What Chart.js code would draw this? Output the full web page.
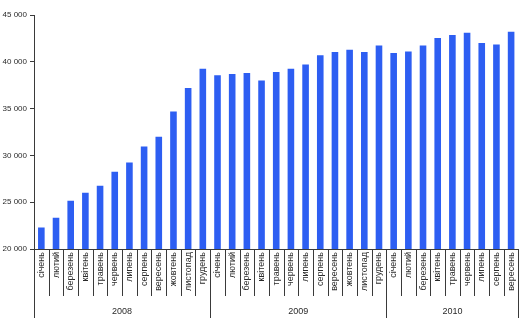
<!DOCTYPE html>
<html>
<head>
<meta charset="utf-8">
<script src="https://cdn.jsdelivr.net/npm/chart.js@4.4.1/dist/chart.umd.min.js"></script>
<style>
  html, body { margin: 0; padding: 0; background: #fff; }
  #wrap { width: 525px; height: 328px; }
</style>
</head>
<body>
<div id="wrap"><canvas id="chart1"></canvas></div>
<script>
const months = ['січень', 'лютий', 'березень', 'квітень', 'травень', 'червень',
    'липень', 'серпень', 'вересень', 'жовтень', 'листопад', 'грудень'];
const years = ['2008', '2009', '2010'];
const monthsPerYear = [12, 12, 9];
const values = [
    22300, 23350, 25150, 26000, 26750, 28250, 29250, 30950, 32000, 34700, 37200, 39250,
    38550, 38700, 38800, 38000, 38900, 39250, 39700, 40700, 41050, 41300, 41050, 41750,
    40950, 41100, 41750, 42550, 42850, 43100, 42000, 41850, 43200
];
const yTicks = [20000, 25000, 30000, 35000, 40000, 45000];

const labels = [];
monthsPerYear.forEach(n => {
    for (let m = 0; m < n; m++) labels.push(months[m]);
});

const axisColor = '#3a3a3a';
const textColor = '#2a2a2a';
const fontFamily = '"Liberation Sans", Arial, sans-serif';

// separators under the category axis and the year row
const yearAxis = {
    id: 'yearAxis',
    afterDraw(chart) {
        const ctx = chart.ctx;
        const x = chart.scales.x;
        const bottom = chart.chartArea.bottom;
        const half = (x.getPixelForValue(1) - x.getPixelForValue(0)) / 2;
        const edge = i => i < labels.length ? x.getPixelForValue(i) - half : x.getPixelForValue(labels.length - 1) + half;

        const groupStarts = [0];
        monthsPerYear.forEach(n => groupStarts.push(groupStarts[groupStarts.length - 1] + n));

        ctx.save();
        ctx.strokeStyle = axisColor;
        ctx.lineWidth = 1;
        for (let i = 0; i <= labels.length; i++) {
            const px = Math.round(edge(i)) + 0.5;
            const len = groupStarts.includes(i) ? 69 : 47;
            ctx.beginPath();
            ctx.moveTo(px, bottom);
            ctx.lineTo(px, bottom + len);
            ctx.stroke();
        }

        ctx.fillStyle = textColor;
        ctx.font = `9px ${fontFamily}`;
        ctx.textAlign = 'center';
        ctx.textBaseline = 'middle';
        years.forEach((yr, k) => {
            const cx = (edge(groupStarts[k]) + edge(groupStarts[k + 1])) / 2;
            ctx.fillText(yr, cx, bottom + 63);
        });
        ctx.restore();
    }
};

new Chart(document.getElementById('chart1').getContext('2d'), {
    type: 'bar',
    data: {
        labels: labels,
        datasets: [{
            data: values,
            backgroundColor: '#2d5ef2',
            borderWidth: 0,
            categoryPercentage: 0.9,
            barPercentage: 0.5
        }]
    },
    options: {
        responsive: true,
        maintainAspectRatio: false,
        animation: false,
        layout: {
            padding: { top: 15, right: 6, left: 0, bottom: 0 }
        },
        plugins: {
            legend: { display: false },
            tooltip: { enabled: false }
        },
        scales: {
            x: {
                grid: { display: false, drawTicks: false },
                border: { color: axisColor, width: 1 },
                ticks: {
                    autoSkip: false,
                    minRotation: 90,
                    maxRotation: 90,
                    padding: 3,
                    color: textColor,
                    font: { family: fontFamily, size: 9 }
                },
                afterFit: scale => { scale.height = 79; }
            },
            y: {
                min: yTicks[0],
                max: yTicks[yTicks.length - 1],
                afterBuildTicks: scale => {
                    scale.ticks = yTicks.map(v => ({ value: v }));
                },
                grid: { drawOnChartArea: false, tickLength: 4, color: axisColor },
                border: { color: axisColor, width: 1 },
                ticks: {
                    padding: 3,
                    color: textColor,
                    font: { family: fontFamily, size: 8 },
                    callback: v => String(v).replace(/\B(?=(\d{3})+(?!\d))/g, ' ')
                },
                afterFit: scale => { scale.width = 34; }
            }
        }
    },
    plugins: [yearAxis]
});
</script>
</body>
</html>
